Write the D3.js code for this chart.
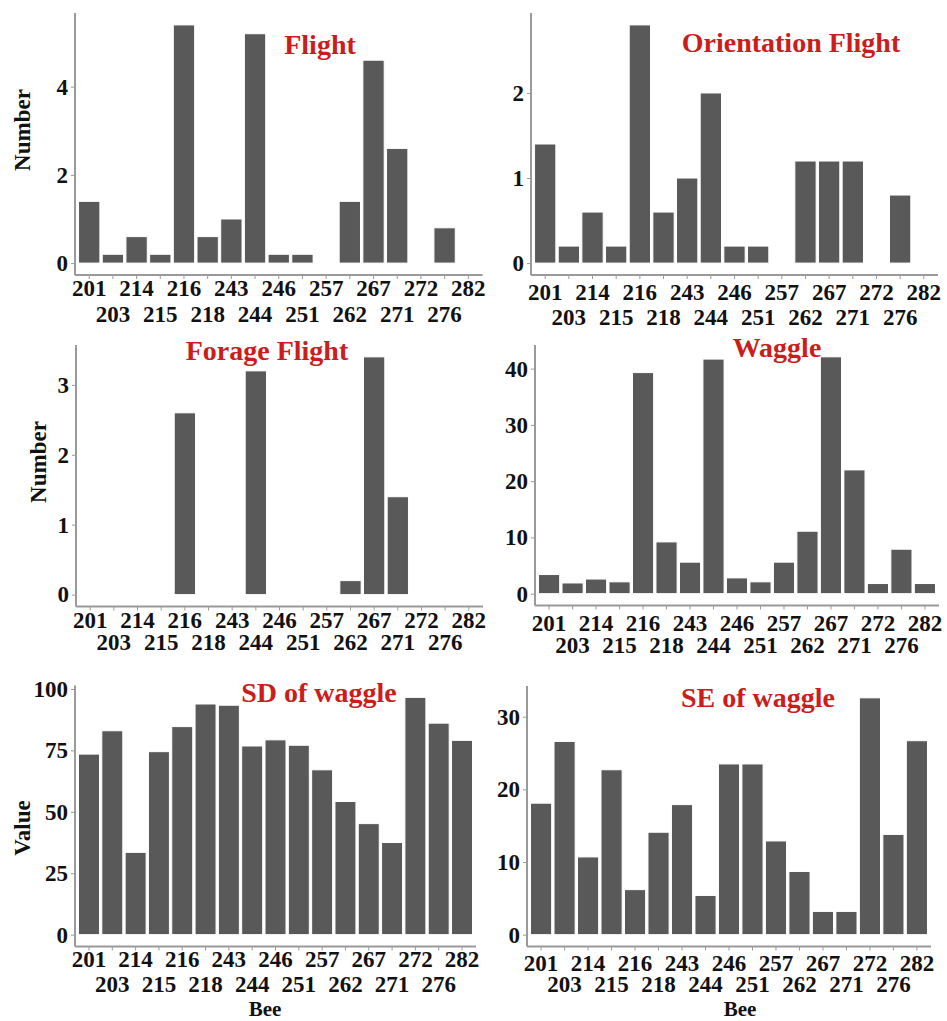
<!DOCTYPE html>
<html>
<head>
<meta charset="utf-8">
<script src="https://cdn.jsdelivr.net/npm/d3@7"></script>
<style>
  html, body { margin: 0; padding: 0; background: #fff; }
  svg { display: block; }
  text { font-family: "Liberation Serif", "Times New Roman", serif; font-weight: bold; }
</style>
</head>
<body>
<svg id="chart" width="947" height="1021"></svg>
<script>
// ---- data ----
const bees = ["201","203","214","215","216","218","243","244","246","251","257","262","267","271","272","276","282"];
const flight            = [1.4, 0.2, 0.6, 0.2, 5.4, 0.6, 1.0, 5.2, 0.2, 0.2, 0, 1.4, 4.6, 2.6, 0, 0.8, 0];
const orientationFlight = [1.4, 0.2, 0.6, 0.2, 2.8, 0.6, 1.0, 2.0, 0.2, 0.2, 0, 1.2, 1.2, 1.2, 0, 0.8, 0];
const forageFlight      = [0, 0, 0, 0, 2.6, 0, 0, 3.2, 0, 0, 0, 0.2, 3.4, 1.4, 0, 0, 0];
const waggle            = [3.4, 1.9, 2.6, 2.1, 39.3, 9.2, 5.6, 41.7, 2.8, 2.1, 5.6, 11.1, 42.1, 22.0, 1.8, 7.9, 1.8];
const sdWaggle          = [73.5, 83, 33.5, 74.5, 84.7, 93.9, 93.4, 76.8, 79.3, 77.1, 67.1, 54.2, 45.2, 37.5, 96.6, 86.1, 79.1];
const seWaggle          = [18.1, 26.6, 10.7, 22.7, 6.2, 14.1, 17.9, 5.4, 23.5, 23.5, 12.9, 8.7, 3.2, 3.2, 32.6, 13.8, 26.7];

const flightTicks = [0, 2, 4];
const orientationTicks = [0, 1, 2];
const forageTicks = [0, 1, 2, 3];
const waggleTicks = [0, 10, 20, 30, 40];
const sdTicks = [0, 25, 50, 75, 100];
const seTicks = [0, 10, 20, 30];

const titles = ["Flight", "Orientation Flight", "Forage Flight", "Waggle", "SD of waggle", "SE of waggle"];
const yTitles = ["Number", "", "Number", "", "Value", ""];
const xTitles = ["", "", "", "", "Bee", "Bee"];

// ---- layout ----
const panels = [
  { values: flight, ticks: flightTicks, x0: 75, x1: 482.5, yb: 275, yt: 13,
    title: [320, 54], ytitle: [22, 130], r1: 21, r2: 47, xtitle: null },
  { values: orientationFlight, ticks: orientationTicks, x0: 531, x1: 938, yb: 275, yt: 13,
    title: [791, 51.5], ytitle: null, r1: 25, r2: 50, xtitle: null },
  { values: forageFlight, ticks: forageTicks, x0: 76, x1: 483, yb: 606.5, yt: 345,
    title: [267, 360], ytitle: [38, 462], r1: 21, r2: 43, xtitle: null },
  { values: waggle, ticks: waggleTicks, x0: 535, x1: 939, yb: 605.5, yt: 345,
    title: [777, 356.5], ytitle: null, r1: 25, r2: 47.5, xtitle: null },
  { values: sdWaggle, ticks: sdTicks, x0: 75, x1: 476, yb: 946.5, yt: 685.5,
    title: [319, 702], ytitle: [22, 828], r1: 20.5, r2: 45, xtitle: [265, 1016] },
  { values: seWaggle, ticks: seTicks, x0: 527, x1: 931, yb: 946.5, yt: 686,
    title: [758, 707], ytitle: null, r1: 24.5, r2: 45, xtitle: [740, 1016] }
];

const svg = d3.select("#chart");
const axisColor = "#9a9a9a";
const tickFont = 23;

panels.forEach((p, i) => {
  const data = bees.map((b, k) => ({ bee: b, v: p.values[k], k }));
  const maxV = d3.max(p.values);
  const e = maxV * 0.05;
  const x = d3.scaleBand().domain(bees).range([p.x0, p.x1]).paddingInner(0.1).paddingOuter(0.15);
  const y = d3.scaleLinear().domain([-e, maxV + e]).range([p.yb, p.yt]);
  const g = svg.append("g");

  // bars
  g.selectAll("rect").data(data.filter(d => d.v > 0)).join("rect")
    .attr("x", d => x(d.bee))
    .attr("width", x.bandwidth())
    .attr("y", d => y(d.v))
    .attr("height", d => y(0) - y(d.v))
    .attr("fill", "#595959")
    .attr("stroke", "#ffffff")
    .attr("stroke-width", 1);

  // y axis
  const ya = d3.axisLeft(y).tickValues(p.ticks).tickSize(4).tickPadding(3).tickFormat(d3.format("d"));
  const yg = g.append("g").attr("transform", `translate(${p.x0},0)`).call(ya);
  yg.select(".domain").remove();
  yg.selectAll(".tick line").attr("stroke", axisColor).attr("stroke-width", 1);
  yg.selectAll(".tick text").attr("fill", "#111").attr("font-size", tickFont)
    .attr("font-family", "Liberation Serif").attr("font-weight", "bold");
  g.append("line").attr("x1", p.x0).attr("x2", p.x0).attr("y1", p.yt).attr("y2", p.yb)
    .attr("stroke", axisColor).attr("stroke-width", 2);

  // x axis
  const xa = d3.axisBottom(x).tickSize(4).tickFormat("");
  const xg = g.append("g").attr("transform", `translate(0,${p.yb})`).call(xa);
  xg.select(".domain").remove();
  xg.selectAll(".tick line").attr("stroke", axisColor).attr("stroke-width", 1);
  g.append("line").attr("x1", p.x0).attr("x2", p.x1).attr("y1", p.yb).attr("y2", p.yb)
    .attr("stroke", axisColor).attr("stroke-width", 2);

  // dodged tick labels
  g.selectAll("text.xl").data(data).join("text").attr("class", "xl")
    .attr("x", d => x(d.bee) + x.bandwidth() / 2)
    .attr("y", d => p.yb + (d.k % 2 === 0 ? p.r1 : p.r2))
    .attr("text-anchor", "middle")
    .attr("font-size", tickFont)
    .attr("fill", "#111")
    .text(d => d.bee);

  // title
  g.append("text").attr("x", p.title[0]).attr("y", p.title[1])
    .attr("text-anchor", "middle").attr("font-size", 28).attr("fill", "#cc1c1c")
    .text(titles[i]);

  if (p.ytitle) {
    g.append("text")
      .attr("transform", `translate(${p.ytitle[0]},${p.ytitle[1]}) rotate(-90)`)
      .attr("text-anchor", "middle").attr("dy", "0.35em")
      .attr("font-size", 23).attr("fill", "#111")
      .text(yTitles[i]);
  }
  if (p.xtitle) {
    g.append("text").attr("x", p.xtitle[0]).attr("y", p.xtitle[1])
      .attr("text-anchor", "middle").attr("font-size", 21).attr("fill", "#111")
      .text(xTitles[i]);
  }
});
</script>
</body>
</html>
